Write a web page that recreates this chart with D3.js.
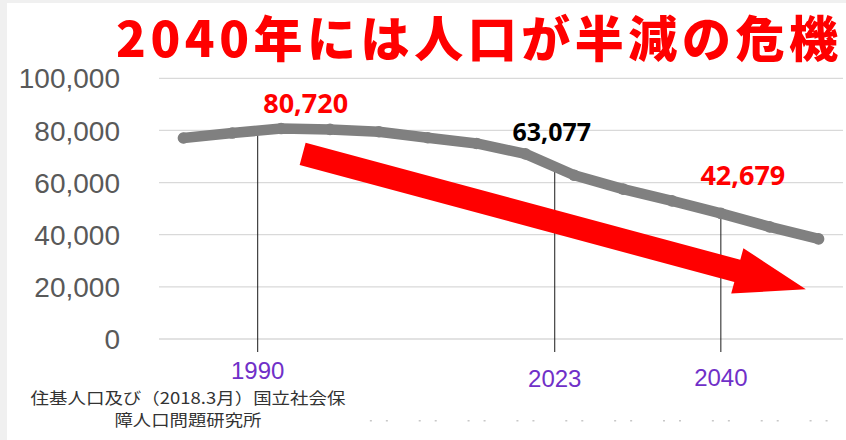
<!DOCTYPE html>
<html>
<head>
<meta charset="utf-8">
<script src="https://cdn.jsdelivr.net/npm/d3@7"></script>
<style>
  body { margin: 0; background: #ffffff; }
  svg { display: block; }
</style>
</head>
<body>
<svg id="chart"></svg>
<script>
// population by year (persons)
var years = [1985, 1990, 1995, 2000, 2005, 2010, 2015, 2020, 2025, 2030, 2035, 2040, 2045, 2050];
var population = [77100, 79000, 80720, 80400, 79500, 77200, 75000, 71000, 62800, 57500, 53000, 48200, 43000, 38400];
var yTicks = [0, 20000, 40000, 60000, 80000, 100000];

// callouts drawn on the chart
var calloutYears = [1992.6, 2023, 2040];
var calloutTicks = ["1990", "2023", "2040"];
var calloutValues = [80720, 63077, 42679];

// big trend arrow, from / to in (year, value)
var arrowFrom = [1997.2, 71000];
var arrowTo = [2048.7, 19060];

var titleText = "2040年には人口が半減の危機";
var sourceLines = ["住基人口及び（2018.3月）国立社会保", "障人口問題研究所"];

var width = 846, height = 440;
var plot = {left: 159, right: 843, top: 78.3, bottom: 339};

var svg = d3.select("#chart")
    .attr("width", width)
    .attr("height", height);

// slide frame strips
svg.append("rect").attr("x", 0).attr("y", 0).attr("width", 7).attr("height", height).attr("fill", "#f0f0f0");
svg.append("rect").attr("x", 0).attr("y", 0).attr("width", width).attr("height", 3).attr("fill", "#f0f0f0");

var xScale = d3.scalePoint()
    .domain(years)
    .range([plot.left, plot.right])
    .padding(0.5);

// same axis as continuous years, for the callouts
var step = years[1] - years[0];
var xYear = d3.scaleLinear()
    .domain([years[0] - step / 2, years[years.length - 1] + step / 2])
    .range([plot.left, plot.right]);

var yScale = d3.scaleLinear()
    .domain([0, 100000])
    .range([plot.bottom, plot.top]);

// gridlines
svg.append("g").selectAll("line")
    .data(yTicks)
    .enter()
    .append("line")
    .attr("x1", plot.left)
    .attr("x2", plot.right)
    .attr("y1", d => yScale(d))
    .attr("y2", d => yScale(d))
    .attr("stroke", "#d9d9d9")
    .attr("stroke-width", 1.3);

// y labels
svg.append("g").selectAll("text")
    .data(yTicks)
    .enter()
    .append("text")
    .attr("x", 120)
    .attr("y", d => yScale(d))
    .attr("dy", "0.36em")
    .attr("text-anchor", "end")
    .attr("font-family", "Liberation Sans, Arial, sans-serif")
    .attr("font-size", 28)
    .attr("fill", "#595959")
    .text(d => d3.format(",")(d));

// faint leftover tick dots at the bottom
var dotYears = years.slice(4);
var dots = svg.append("g");
dotYears.forEach(function (yr) {
    [-8, 8].forEach(function (off) {
        dots.append("rect")
            .attr("x", xScale(yr) + off - 1)
            .attr("y", 420)
            .attr("width", 2)
            .attr("height", 1.5)
            .attr("fill", "#c8c8c8");
    });
});

// value of the line at any year (for where callout lines start)
var lineAt = d3.scaleLinear().domain(years).range(population);

// callout vertical lines
svg.append("g").selectAll("line")
    .data(calloutYears)
    .enter()
    .append("line")
    .attr("x1", d => xYear(d))
    .attr("x2", d => xYear(d))
    .attr("y1", d => yScale(lineAt(d)))
    .attr("y2", 352)
    .attr("stroke", "#1a1a1a")
    .attr("stroke-width", 1);

// red arrow
var p0 = [xYear(arrowFrom[0]), yScale(arrowFrom[1])];
var p1 = [xYear(arrowTo[0]), yScale(arrowTo[1])];
var dx = p1[0] - p0[0], dy = p1[1] - p0[1];
var len = Math.sqrt(dx * dx + dy * dy);
var ux = dx / len, uy = dy / len;
var nx = -uy, ny = ux;
var shaftW = 23, headW = 47, headL = 71;
var b = [p1[0] - ux * headL, p1[1] - uy * headL];
function pt(base, w) { return [base[0] + nx * w, base[1] + ny * w]; }
var arrowPts = [
    pt(p0, -shaftW / 2),
    pt(b, -shaftW / 2),
    pt(b, -headW / 2),
    p1,
    pt(b, headW / 2),
    pt(b, shaftW / 2),
    pt(p0, shaftW / 2)
];
svg.append("path")
    .attr("d", "M" + arrowPts.join("L") + "Z")
    .attr("fill", "#ff0000");

// population line
var line = d3.line()
    .x((d, i) => xScale(years[i]))
    .y(d => yScale(d));

svg.append("path")
    .datum(population)
    .attr("fill", "none")
    .attr("stroke", "#808080")
    .attr("stroke-width", 10.5)
    .attr("stroke-linecap", "round")
    .attr("stroke-linejoin", "round")
    .attr("d", line);

svg.append("g").selectAll("circle")
    .data(population)
    .enter()
    .append("circle")
    .attr("cx", (d, i) => xScale(years[i]))
    .attr("cy", d => yScale(d))
    .attr("r", 5.8)
    .attr("fill", "#808080");

// callout value labels
var labelStyle = [
    {dx: 48, y: 113, size: 27, color: "#ff0000"},
    {dx: -3, y: 141, size: 25, color: "#000000"},
    {dx: 22, y: 185, size: 27, color: "#ff0000"}
];
svg.append("g").selectAll("text")
    .data(calloutValues)
    .enter()
    .append("text")
    .attr("x", (d, i) => xYear(calloutYears[i]) + labelStyle[i].dx)
    .attr("y", (d, i) => labelStyle[i].y)
    .attr("text-anchor", "middle")
    .attr("font-family", "Noto Sans, sans-serif")
    .attr("font-weight", "bold")
    .attr("font-size", (d, i) => labelStyle[i].size)
    .attr("fill", (d, i) => labelStyle[i].color)
    .text(d => d3.format(",")(d));

// callout year labels
var tickBase = [379, 387, 386];
svg.append("g").selectAll("text")
    .data(calloutTicks)
    .enter()
    .append("text")
    .attr("x", (d, i) => xYear(calloutYears[i]))
    .attr("y", (d, i) => tickBase[i])
    .attr("text-anchor", "middle")
    .attr("font-family", "Liberation Sans, Arial, sans-serif")
    .attr("font-size", 24)
    .attr("fill", "#7030c8")
    .text(d => d);

// title
svg.append("text")
    .attr("x", 116)
    .attr("y", 57)
    .attr("textLength", 722)
    .attr("lengthAdjust", "spacing")
    .attr("font-family", "Noto Sans CJK JP, sans-serif")
    .attr("font-weight", 900)
    .attr("font-size", 49)
    .attr("fill", "#ff0000")
    .text(titleText);

// source note
var sourceFit = [315, 147];
svg.append("g").selectAll("text")
    .data(sourceLines)
    .enter()
    .append("text")
    .attr("x", (d, i) => 188 - sourceFit[i] / 2)
    .attr("y", (d, i) => 404 + i * 22)
    .attr("textLength", (d, i) => sourceFit[i])
    .attr("lengthAdjust", "spacingAndGlyphs")
    .attr("font-family", "Noto Sans CJK JP, sans-serif")
    .attr("font-size", 16)
    .attr("fill", "#333333")
    .text(d => d);
</script>
</body>
</html>
